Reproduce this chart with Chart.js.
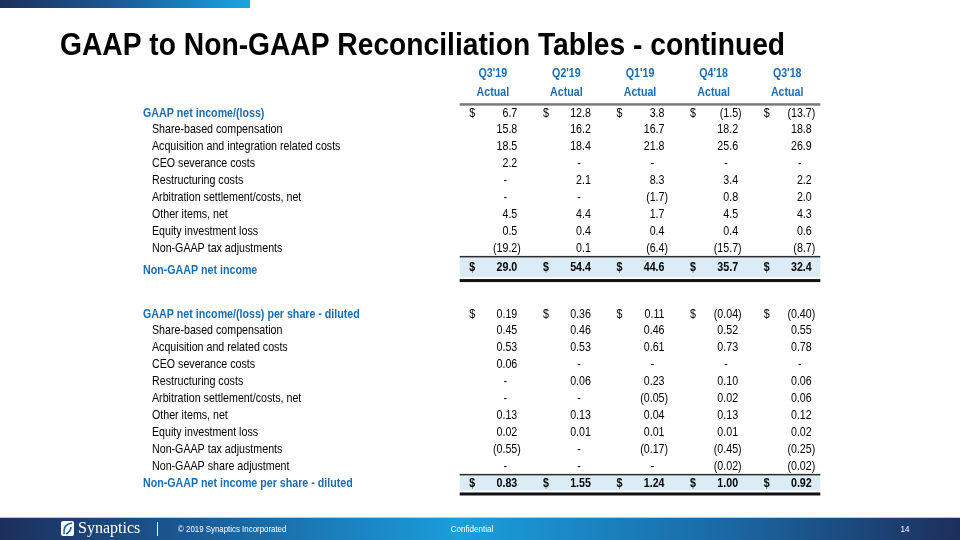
<!DOCTYPE html>
<html><head><meta charset="utf-8">
<script src="https://cdn.jsdelivr.net/npm/chart.js@4.4.1/dist/chart.umd.min.js"></script>
<style>html,body{margin:0;padding:0;background:#fff;}#wrap{position:relative;width:960px;height:540px;overflow:hidden}</style>
</head><body><div id="wrap"><canvas id="c" width="960" height="540"></canvas></div>
<script>
// ---------- DATA ----------
const slideTitle = "GAAP to Non-GAAP Reconciliation Tables - continued";
const quarters = ["Q3'19", "Q2'19", "Q1'19", "Q4'18", "Q3'18"];
const quarterSub = "Actual";

const incomeRowLabels = [
  "GAAP net income/(loss)", "Share-based compensation", "Acquisition and integration related costs",
  "CEO severance costs", "Restructuring costs", "Arbitration settlement/costs, net",
  "Other items, net", "Equity investment loss", "Non-GAAP tax adjustments", "Non-GAAP net income"
];
const incomeQ3_19 = [6.7, 15.8, 18.5, 2.2, null, null, 4.5, 0.5, -19.2, 29.0];
const incomeQ2_19 = [12.8, 16.2, 18.4, null, 2.1, null, 4.4, 0.4, 0.1, 54.4];
const incomeQ1_19 = [3.8, 16.7, 21.8, null, 8.3, -1.7, 1.7, 0.4, -6.4, 44.6];
const incomeQ4_18 = [-1.5, 18.2, 25.6, null, 3.4, 0.8, 4.5, 0.4, -15.7, 35.7];
const incomeQ3_18 = [-13.7, 18.8, 26.9, null, 2.2, 2.0, 4.3, 0.6, -8.7, 32.4];

const perShareRowLabels = [
  "GAAP net income/(loss) per share - diluted", "Share-based compensation", "Acquisition and related costs",
  "CEO severance costs", "Restructuring costs", "Arbitration settlement/costs, net", "Other items, net",
  "Equity investment loss", "Non-GAAP tax adjustments", "Non-GAAP share adjustment",
  "Non-GAAP net income per share - diluted"
];
const perShareQ3_19 = [0.19, 0.45, 0.53, 0.06, null, null, 0.13, 0.02, -0.55, null, 0.83];
const perShareQ2_19 = [0.36, 0.46, 0.53, null, 0.06, null, 0.13, 0.01, null, null, 1.55];
const perShareQ1_19 = [0.11, 0.46, 0.61, null, 0.23, -0.05, 0.04, 0.01, -0.17, null, 1.24];
const perShareQ4_18 = [-0.04, 0.52, 0.73, null, 0.10, 0.02, 0.13, 0.01, -0.45, -0.02, 1.00];
const perShareQ3_18 = [-0.40, 0.55, 0.78, null, 0.06, 0.06, 0.12, 0.02, -0.25, -0.02, 0.92];

const footerCompany = "Synaptics";
const footerCopyright = "\u00A9 2019 Synaptics Incorporated";
const footerConfidential = "Confidential";
const footerPage = "14";

// ---------- LAYOUT (row units on the y scale) ----------
const incomeSeries = [incomeQ3_19, incomeQ2_19, incomeQ1_19, incomeQ4_18, incomeQ3_18];
const perShareSeries = [perShareQ3_19, perShareQ2_19, perShareQ1_19, perShareQ4_18, perShareQ3_18];
const incomePos = incomeRowLabels.map((_, i) => i < incomeRowLabels.length - 1 ? i : i + 0.12);
const perShareStart = 11.9;
const perSharePos = perShareRowLabels.map((_, i) => perShareStart + (i < perShareRowLabels.length - 1 ? i : i + 0.05));

function hasFont(name) {
  const c = document.createElement('canvas').getContext('2d');
  const s = 'abcdefghijklmnopqrstuvwxyz0123456789ABCDEFG';
  c.font = '20px monospace'; const w1 = c.measureText(s).width;
  c.font = '20px "' + name + '", monospace'; const w2 = c.measureText(s).width;
  return Math.abs(w1 - w2) > 0.5;
}
const NARROW = hasFont('Liberation Sans Narrow');
const FONT = NARROW ? '"Liberation Sans Narrow"' : '"Liberation Sans", Arial, sans-serif';
const SX = NARROW ? 1 : 0.82;
const BLUE = '#1c6cb4';

function txt(ctx, s, x, y, align, font, color, sx) {
  ctx.save();
  ctx.translate(x, y);
  ctx.scale(sx === undefined ? SX : sx, 1);
  ctx.font = font; ctx.fillStyle = color; ctx.textAlign = align; ctx.textBaseline = 'middle';
  ctx.fillText(s, 0, 0);
  ctx.restore();
}

function buildDataset(q) {
  const pts = [];
  incomeSeries[q].forEach((v, i) => {
    const last = i === incomeSeries[q].length - 1;
    pts.push({x: q, y: incomePos[i], v: v, dec: 1, dollar: i === 0 || last, bold: last});
  });
  perShareSeries[q].forEach((v, i) => {
    const last = i === perShareSeries[q].length - 1;
    pts.push({x: q, y: perSharePos[i], v: v, dec: 2, dollar: i === 0 || last, bold: last});
  });
  return {label: quarters[q], data: pts, pointRadius: 0, showLine: false};
}

const bands = [
  {row: incomePos[incomePos.length - 1], up: 0.6, down: 0.6, line: 0.8},
  {row: perSharePos[perSharePos.length - 1], up: 0.53, down: 0.4, line: 0.6}
];

const tablePlugin = {
  id: 'table',
  beforeDraw(chart) {
    const {ctx, scales: {x, y}} = chart;
    ctx.save();
    ctx.fillStyle = '#fff'; ctx.fillRect(0, 0, 960, 540);
    // top bar
    let g = ctx.createLinearGradient(0, 0, 250, 0);
    g.addColorStop(0, '#1d2f5c'); g.addColorStop(0.5, '#1a5e9a'); g.addColorStop(1, '#19a6e2');
    ctx.fillStyle = g; ctx.fillRect(0, 0, 250, 8);
    // shading bands
    const x0 = x.getPixelForValue(-0.45), x1 = x.getPixelForValue(4.45);
    bands.forEach(b => {
      const t = y.getPixelForValue(b.row - b.up), bt = y.getPixelForValue(b.row + b.down);
      ctx.fillStyle = '#dbecf6'; ctx.fillRect(x0, t, x1 - x0, bt - t);
      ctx.fillStyle = '#2b2b2b'; ctx.fillRect(x0, t - 1, x1 - x0, 1.5);
      const l = y.getPixelForValue(b.row + b.line);
      ctx.fillStyle = '#111'; ctx.fillRect(x0, l - 1.5, x1 - x0, 3);
    });
    // header rule
    ctx.fillStyle = '#7a7a7a';
    ctx.fillRect(x0, y.getPixelForValue(-0.52) - 1, x1 - x0, 2.5);
    ctx.restore();
  },
  afterDatasetsDraw(chart) {
    const {ctx, scales: {x, y}} = chart;
    // title
    txt(ctx, slideTitle, 60, 46, 'left', 'bold 32px ' + FONT, '#000', SX * 1.075);
    // column headers
    quarters.forEach((q, i) => {
      const xc = x.getPixelForValue(i);
      txt(ctx, q, xc, y.getPixelForValue(-2.33), 'center', 'bold 13px ' + FONT, BLUE);
      txt(ctx, quarterSub, xc, y.getPixelForValue(-1.2), 'center', 'bold 13px ' + FONT, BLUE);
    });
    // row labels
    const drawLabels = (labels, pos, extraLast) => {
      labels.forEach((lab, i) => {
        const head = i === 0 || i === labels.length - 1;
        const yy = y.getPixelForValue(pos[i] + (i === labels.length - 1 ? extraLast : 0));
        if (head) txt(ctx, lab, 143, yy, 'left', 'bold 13px ' + FONT, BLUE);
        else txt(ctx, lab, 152, yy, 'left', '13px ' + FONT, '#000');
      });
    };
    drawLabels(incomeRowLabels, incomePos, 0.18);
    drawLabels(perShareRowLabels, perSharePos, -0.05);
    // cell values
    chart.data.datasets.forEach((ds, di) => {
      const meta = chart.getDatasetMeta(di);
      meta.data.forEach((el, i) => {
        const p = ds.data[i];
        const xc = el.x, yc = el.y;
        const right = xc + 24.5;
        const font = (p.bold ? 'bold ' : '') + '13px ' + FONT;
        if (p.dollar) txt(ctx, '$', xc - 23.5, yc, 'left', font, '#000');
        if (p.v === null) txt(ctx, '-', right - 12, yc, 'center', font, '#000');
        else if (p.v < 0) {
          txt(ctx, '(' + Math.abs(p.v).toFixed(p.dec), right, yc, 'right', font, '#000');
          txt(ctx, ')', right, yc, 'left', font, '#000');
        } else txt(ctx, p.v.toFixed(p.dec), right, yc, 'right', font, '#000');
      });
    });
    // footer
    ctx.save();
    let g = ctx.createLinearGradient(0, 0, 960, 0);
    g.addColorStop(0, '#1c2f5b'); g.addColorStop(0.2, '#1b5a95'); g.addColorStop(0.48, '#1a9fdc');
    g.addColorStop(0.75, '#1a6aa6'); g.addColorStop(1, '#1d2f5a');
    ctx.fillStyle = g; ctx.fillRect(0, 518, 960, 22);
    ctx.fillStyle = '#9fd3ef'; ctx.fillRect(0, 517, 960, 1);
    // logo icon
    ctx.fillStyle = '#fff';
    ctx.beginPath();
    if (ctx.roundRect) ctx.roundRect(61, 521, 13, 15, 2); else ctx.rect(61, 521, 13, 15);
    ctx.fill();
    ctx.strokeStyle = '#1b5a95'; ctx.lineWidth = 1.6;
    ctx.beginPath(); ctx.moveTo(64, 534); ctx.quadraticCurveTo(63, 524, 72, 523); ctx.stroke();
    ctx.beginPath(); ctx.moveTo(66, 534); ctx.quadraticCurveTo(71, 531, 71, 527); ctx.stroke();
    ctx.restore();
    txt(ctx, footerCompany, 78, 529, 'left', '16px "Liberation Serif", serif', '#fff', 1);
    ctx.save(); ctx.fillStyle = '#e8f4fb'; ctx.fillRect(157, 522, 1, 14); ctx.restore();
    txt(ctx, footerCopyright, 178, 529.5, 'left', '9.5px "Liberation Sans", Arial, sans-serif', '#fff', 0.83);
    txt(ctx, footerConfidential, 472, 529.5, 'center', '9.5px "Liberation Sans", Arial, sans-serif', '#fff', 0.85);
    txt(ctx, footerPage, 905, 529.5, 'center', '9.5px "Liberation Sans", Arial, sans-serif', '#fff', 0.85);
  }
};

new Chart(document.getElementById('c'), {
  type: 'scatter',
  data: {datasets: quarters.map((_, q) => buildDataset(q))},
  options: {
    responsive: false, animation: false, devicePixelRatio: 1,
    layout: {padding: {left: 456, right: 136, top: 104, bottom: 44}},
    plugins: {legend: {display: false}, tooltip: {enabled: false}, title: {display: false}},
    scales: {
      x: {type: 'linear', min: -0.5, max: 4.5, display: false},
      y: {type: 'linear', reverse: true, min: -0.53, max: 22.67, display: false}
    },
    events: []
  },
  plugins: [tablePlugin]
});
</script></body></html>
